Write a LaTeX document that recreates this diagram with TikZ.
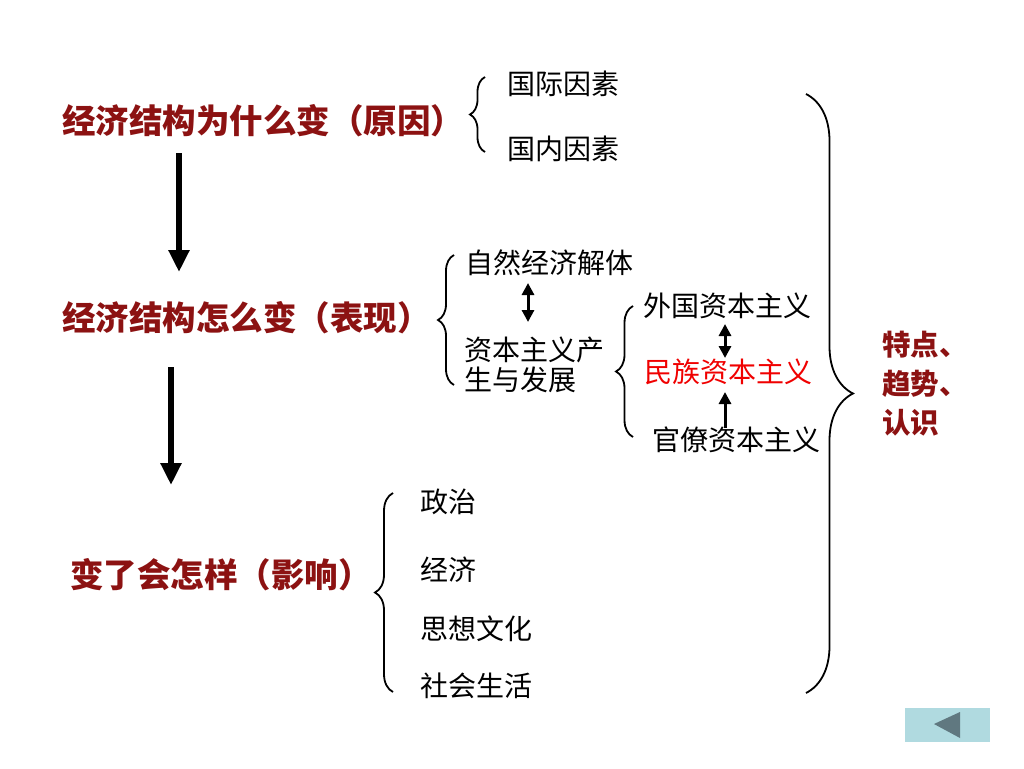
\documentclass[tikz,border=0pt]{standalone}
\usepackage{fontspec}
\setmainfont{Noto Sans CJK SC}
\usetikzlibrary{arrows.meta,decorations.pathreplacing}
\definecolor{headred}{RGB}{140,18,18}
\definecolor{itemred}{RGB}{240,0,0}
\definecolor{btnfill}{RGB}{176,218,224}
\definecolor{btntri}{RGB}{96,120,128}
\begin{document}
\begin{tikzpicture}[x=1pt,y=-1pt,
  head/.style={anchor=west,inner sep=0pt,text=headred,font=\fontsize{33.5}{36}\selectfont\bfseries},
  item/.style={anchor=west,inner sep=0pt,font=\fontsize{28}{30}\selectfont,align=left},
  sidelab/.style={anchor=west,inner sep=0pt,text=headred,font=\fontsize{28.5}{39}\selectfont\bfseries,align=left},
  bigarrow/.style={line width=6pt,-{Triangle[width=20pt,length=22pt]}},
  smallarrow/.style={line width=3pt,{Triangle[width=12pt,length=12pt]}-{Triangle[width=12pt,length=12pt]}},
  uparrow/.style={line width=3pt,-{Triangle[width=12pt,length=12pt]}},
  bracestyle/.style={line width=1.8pt,decorate,decoration={brace,amplitude=#1}}
]
\useasboundingbox[fill=white] (0,0) rectangle (1024,768);

% headings
\node[head] (h1) at (62,121) {经济结构为什么变（原因）};
\node[head] (h2) at (62,318) {经济结构怎么变（表现）};
\node[head] (h3) at (70,575) {变了会怎样（影响）};

% main arrows
\coordinate (a1t) at (179,153);
\coordinate (a1b) at (179,272);
\coordinate (a2t) at (171,367);
\coordinate (a2b) at (171,485);
\draw[bigarrow] (a1t) -- (a1b);
\draw[bigarrow] (a2t) -- (a2b);

% causes
\draw[bracestyle=15pt] (485,152) -- (485,77);
\node[item] (gj) at (507,84) {国际因素};
\node[item] (gn) at (507,149) {国内因素};

% manifestations
\draw[bracestyle=16pt] (454,385) -- (454,255);
\node[item] (zr) at (465,263) {自然经济解体};
\node[item] (zb) at (464,365) {资本主义产\\生与发展};
\coordinate (d1t) at (528,283);
\coordinate (d1b) at (528,322);
\draw[smallarrow] (d1t) -- (d1b);

\draw[bracestyle=17pt] (633,437) -- (633,306);
\node[item] (wg) at (643,306) {外国资本主义};
\node[item,text=itemred] (mz) at (644,372) {民族资本主义};
\node[item] (gl) at (652,440) {官僚资本主义};
\coordinate (d2t) at (725,324);
\coordinate (d2b) at (725,358);
\draw[smallarrow] (d2t) -- (d2b);
\coordinate (u1b) at (725,428);
\coordinate (u1t) at (725,392);
\draw[uparrow] (u1b) -- (u1t);

% effects
\draw[bracestyle=18pt] (393,692) -- (393,493);
\node[item] (zz) at (420,502) {政治};
\node[item] (jj) at (420,570) {经济};
\node[item] (sx) at (420,629) {思想文化};
\node[item] (sh) at (420,686) {社会生活};

% big brace and label
\draw[bracestyle=47pt] (806,94) -- (806,693);
\node[sidelab] (td) at (882,384) {特点、\\趋势、\\认识};

% back button
\node[fill=btnfill,minimum width=85pt,minimum height=34pt,inner sep=0pt] (btn) at (947,725) {};
\fill[btntri] (934,724) -- (960,712) -- (960,738) -- cycle;
\end{tikzpicture}
\end{document}
